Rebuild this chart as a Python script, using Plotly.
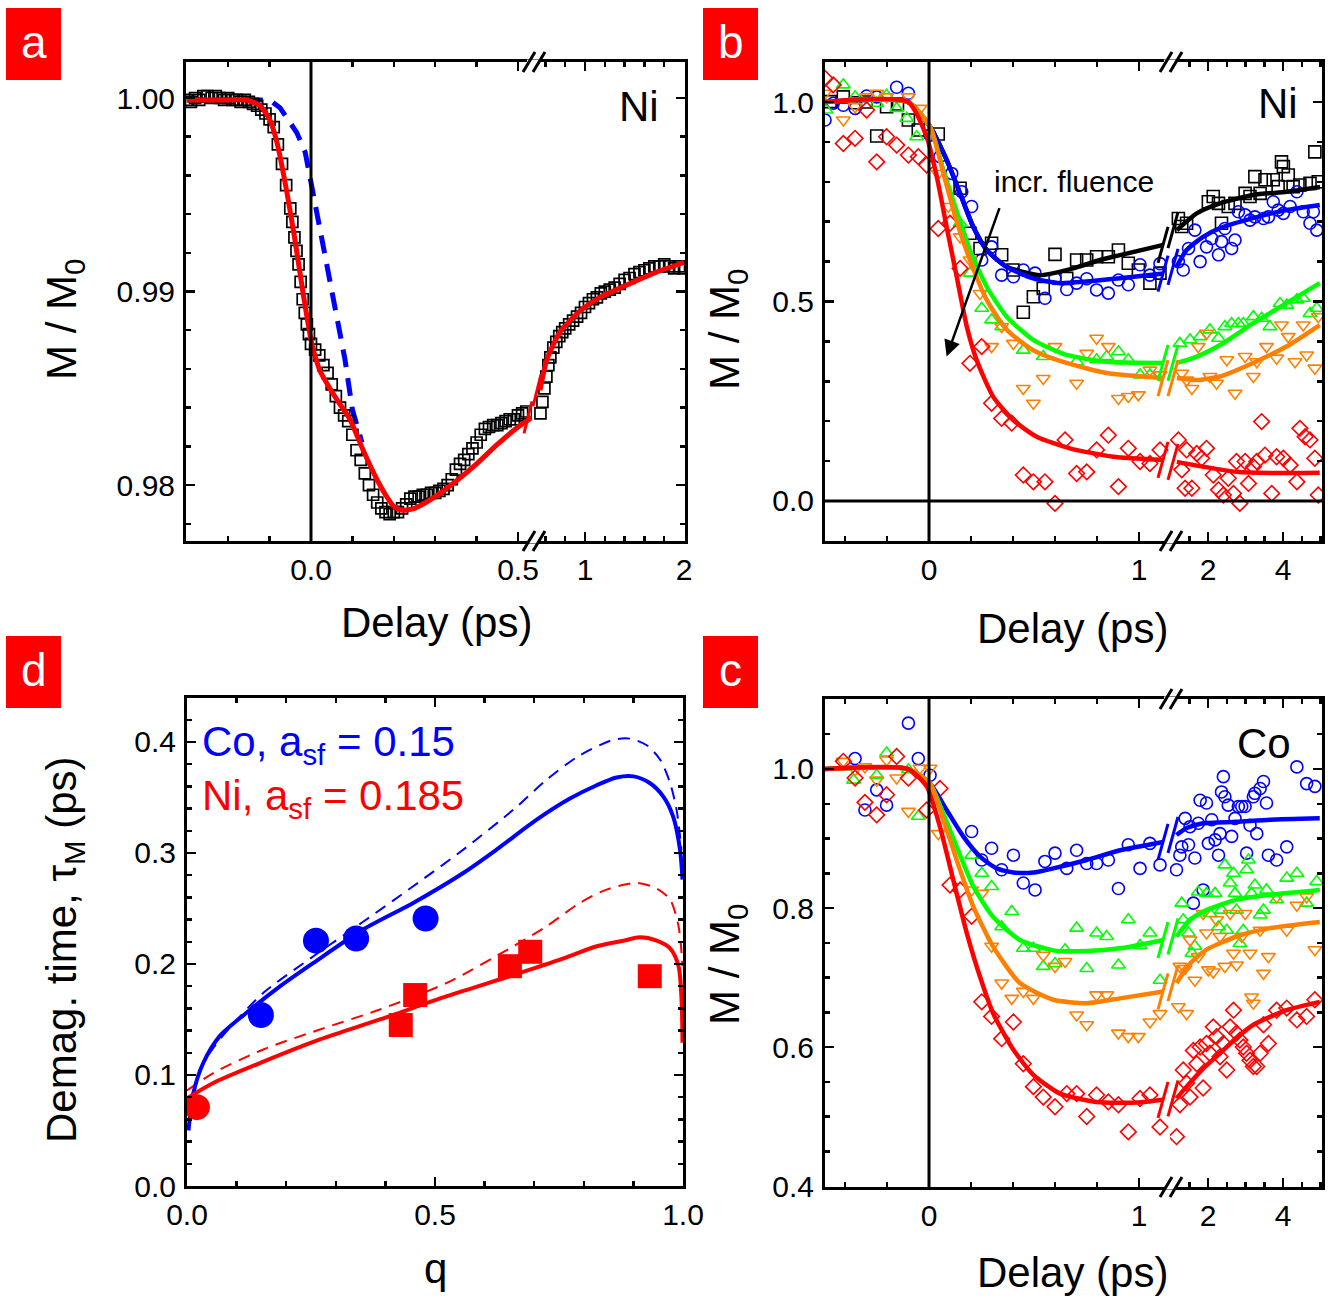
import plotly.graph_objects as go

FONT = "Liberation Sans, Arial, Helvetica, sans-serif"
W, H = 1330, 1300
BLACK, BLUE, GREEN, ORANGE, RED = "#000000", "#0000FF", "#00FF00", "#FF8000", "#FF0000"

# ======================= DATA =======================
# ---- panel a (Ni, single fluence) ----
A_DATA_T = [-0.30, -0.29, -0.28, -0.27, -0.26, -0.25, -0.24, -0.23, -0.22, -0.21, -0.20, -0.19, -0.18, -0.17,
            -0.16, -0.15, -0.14, -0.13, -0.12, -0.11, -0.10, -0.09, -0.08, -0.07, -0.06,
            -0.05, -0.045, -0.04, -0.035, -0.03, -0.025, -0.02, -0.015, -0.01, -0.005, 0.0,
            0.01, 0.02, 0.03, 0.04, 0.05, 0.06, 0.07, 0.08, 0.09, 0.10,
            0.11, 0.12, 0.13, 0.14, 0.15, 0.16, 0.17, 0.18, 0.19, 0.20,
            0.21, 0.22, 0.23, 0.24, 0.25, 0.26, 0.27, 0.28, 0.29, 0.30,
            0.31, 0.32, 0.33, 0.34, 0.35, 0.36, 0.37, 0.38, 0.39, 0.40,
            0.41, 0.42, 0.43, 0.44, 0.45, 0.46, 0.47, 0.48, 0.49, 0.50, 0.51, 0.52,
            0.55, 0.57, 0.59, 0.61, 0.63, 0.65, 0.68, 0.71, 0.74, 0.77,
            0.80, 0.84, 0.88, 0.92, 0.96, 1.00, 1.04, 1.08, 1.12, 1.16,
            1.20, 1.25, 1.30, 1.35, 1.40, 1.45, 1.50, 1.55, 1.60, 1.65,
            1.70, 1.75, 1.80, 1.85, 1.90, 1.95, 2.00]
A_DATA_M = [0.9999, 0.9998, 1.0000, 0.9999, 1.0001, 1.0001, 1.0000, 1.0001, 1.0000, 0.9999, 1.0000, 0.9999, 0.9999, 0.9998,
            0.9999, 0.9998, 0.9997, 0.9996, 0.9994, 0.9992, 0.9989, 0.9985, 0.9976, 0.9966, 0.9955,
            0.9943, 0.9936, 0.9928, 0.9921, 0.9914, 0.9905, 0.9896, 0.9889, 0.9883, 0.9878, 0.9873,
            0.9870, 0.9867, 0.9862, 0.9858, 0.9852, 0.9846, 0.9840, 0.9836, 0.9833, 0.9826,
            0.9818, 0.9813, 0.9806, 0.9800, 0.9795, 0.9791, 0.9788, 0.9786, 0.9785, 0.9786,
            0.9786, 0.9788, 0.9790, 0.9793, 0.9794, 0.9794, 0.9795, 0.9795, 0.9796, 0.9796,
            0.9797, 0.9798, 0.9800, 0.9803, 0.9808, 0.9811, 0.9813, 0.9816, 0.9819, 0.9822,
            0.9826, 0.9829, 0.9830, 0.9831, 0.9831, 0.9832, 0.9833, 0.9834, 0.9834, 0.9836, 0.9837, 0.9838,
            0.9837, 0.9843, 0.9850, 0.9856, 0.9862, 0.9866, 0.9871, 0.9874, 0.9877, 0.9879,
            0.9881, 0.9883, 0.9885, 0.9887, 0.9889, 0.9892, 0.9894, 0.9896, 0.9897, 0.9899,
            0.9900, 0.9901, 0.9902, 0.9904, 0.9906, 0.9907, 0.9909, 0.9910, 0.9911, 0.9912,
            0.9913, 0.9913, 0.9914, 0.9913, 0.9912, 0.9913, 0.9912]
A_FIT_T = [-0.30, -0.20, -0.155, -0.123, -0.10, -0.082, -0.058, -0.039, -0.019, 0.002, 0.022, 0.063, 0.094, 0.126,
           0.159, 0.18, 0.20, 0.22, 0.25, 0.30, 0.35, 0.40, 0.45, 0.50, 0.534,
           0.545, 0.616, 0.747, 0.95, 1.15, 1.45, 1.72, 2.0]
A_FIT_M = [0.9999, 0.9999, 0.9999, 0.9996, 0.9989, 0.9977, 0.9951, 0.9927, 0.9899, 0.9873, 0.9859, 0.9844, 0.9834, 0.9818,
           0.9803, 0.9795, 0.9789, 0.9787, 0.9788, 0.9794, 0.9802, 0.9811, 0.9821, 0.9830, 0.9835,
           0.9849, 0.9865, 0.9879, 0.9890, 0.9897, 0.9904, 0.9910, 0.9915]
A_DASH_T = [-0.30, -0.15, -0.10, -0.075, -0.034, -0.014, 0.005, 0.022, 0.041, 0.063, 0.082, 0.10, 0.123]
A_DASH_M = [0.9999, 0.9999, 0.9999, 0.9995, 0.9982, 0.9972, 0.9951, 0.9933, 0.9910, 0.9885, 0.9865, 0.9839, 0.9822]

# ---- panel b (Ni, increasing fluence) ----
B_BLK_T = [-0.471, -0.408, -0.35, -0.30, -0.249, -0.202, -0.15, -0.098, -0.051, 0.044, 0.148, 0.195, 0.243, 0.298,
           0.346, 0.40, 0.449, 0.497, 0.544, 0.600, 0.656, 0.703, 0.751, 0.798, 0.854, 0.902, 0.949, 0.997, 1.052,
           1.100, 1.21, 1.30, 1.43, 2.01, 2.14, 2.28, 2.36, 2.54, 2.72, 2.99, 3.12, 3.25, 3.39, 3.52, 3.74, 3.87,
           3.96, 4.01, 4.14, 4.27, 4.45, 4.72, 4.85, 4.94]
B_BLK_M = [1.001, 1.013, 0.998, 1.000, 0.915, 0.988, 0.995, 0.955, 0.930, 0.920, 0.784, 0.671, 0.633, 0.646,
           0.617, 0.579, 0.473, 0.512, 0.533, 0.618, 0.558, 0.604, 0.604, 0.612, 0.612, 0.629, 0.596, 0.579, 0.546,
           0.571, 0.708, 0.688, 0.696, 0.750, 0.763, 0.746, 0.696, 0.738, 0.746, 0.771, 0.763, 0.813, 0.771, 0.805,
           0.805, 0.788, 0.850, 0.838, 0.817, 0.788, 0.792, 0.796, 0.875, 0.800]
B_BLU_T = [-0.495, -0.456, -0.408, -0.352, -0.297, -0.249, -0.154, -0.098, 0.005, 0.052, 0.108, 0.156, 0.203, 0.251,
           0.298, 0.346, 0.402, 0.449, 0.505, 0.552, 0.600, 0.656, 0.703, 0.751, 0.798, 0.854, 0.902, 0.949, 1.005,
           1.052, 1.100, 1.21, 1.34, 1.48, 1.65, 1.79, 1.96, 2.10, 2.28, 2.36, 2.45, 2.63, 2.72, 2.81, 2.99, 3.12,
           3.25, 3.48, 3.61, 3.74, 3.87, 4.01, 4.19, 4.37, 4.54, 4.72, 4.81, 4.90]
B_BLU_M = [0.955, 0.997, 0.992, 0.984, 1.015, 1.013, 1.037, 1.022, 0.917, 0.863, 0.821, 0.775, 0.738, 0.604,
           0.637, 0.566, 0.562, 0.579, 0.571, 0.508, 0.558, 0.530, 0.546, 0.557, 0.529, 0.521, 0.554, 0.542, 0.592,
           0.566, 0.595, 0.600, 0.579, 0.633, 0.679, 0.600, 0.637, 0.658, 0.617, 0.650, 0.683, 0.633, 0.654, 0.725,
           0.717, 0.704, 0.712, 0.708, 0.712, 0.750, 0.729, 0.721, 0.738, 0.775, 0.725, 0.696, 0.725, 0.679]
B_GRN_T = [-0.49, -0.408, -0.352, -0.249, -0.202, -0.154, -0.106, -0.059, 0.148, 0.195, 0.251, 0.298, 0.346, 0.449,
           0.544, 0.703, 0.798, 0.846, 0.902, 0.949, 1.005, 1.052, 1.25, 1.52, 1.79, 2.05, 2.28, 2.45, 2.63, 2.81,
           2.94, 3.21, 3.43, 3.65, 3.92, 4.10, 4.37, 4.54, 4.72, 4.90]
B_GRN_M = [0.980, 1.043, 1.013, 0.997, 1.017, 0.984, 0.959, 0.913, 0.696, 0.571, 0.483, 0.454, 0.437, 0.378,
           0.362, 0.349, 0.354, 0.362, 0.374, 0.354, 0.316, 0.316, 0.395, 0.404, 0.412, 0.429, 0.408, 0.437, 0.445,
           0.445, 0.445, 0.462, 0.458, 0.437, 0.495, 0.491, 0.504, 0.508, 0.470, 0.483]
B_ORG_T = [-0.495, -0.408, -0.352, -0.297, -0.249, -0.202, -0.098, -0.043, 0.044, 0.092, 0.148, 0.195, 0.243, 0.298,
           0.346, 0.402, 0.449, 0.497, 0.544, 0.600, 0.703, 0.751, 0.798, 0.854, 0.902, 0.949, 0.997, 1.052, 1.100,
           1.30, 1.43, 1.57, 1.74, 1.96, 2.05, 2.23, 2.50, 2.72, 2.99, 3.21, 3.30, 3.56, 3.83, 3.96, 4.14, 4.32,
           4.54, 4.63, 4.85, 4.94]
B_ORG_M = [1.022, 0.955, 0.988, 1.013, 1.022, 1.013, 1.013, 0.984, 0.821, 0.738, 0.662, 0.604, 0.520, 0.387,
           0.437, 0.395, 0.282, 0.245, 0.307, 0.387, 0.295, 0.370, 0.408, 0.387, 0.257, 0.262, 0.266, 0.328, 0.316,
           0.320, 0.303, 0.282, 0.387, 0.420, 0.312, 0.295, 0.354, 0.270, 0.362, 0.312, 0.349, 0.387, 0.358, 0.441,
           0.412, 0.349, 0.441, 0.366, 0.333, 0.462]
B_RED_T = [-0.495, -0.456, -0.408, -0.352, -0.297, -0.249, -0.202, -0.154, -0.098, -0.051, -0.011, 0.044, 0.100,
           0.148, 0.195, 0.251, 0.298, 0.346, 0.394, 0.449, 0.497, 0.552, 0.600, 0.648, 0.703, 0.751, 0.798, 0.854,
           0.902, 0.949, 1.005, 1.052, 1.100, 1.21, 1.30, 1.39, 1.43, 1.57, 1.70, 1.83, 1.96, 2.14, 2.28, 2.41, 2.54,
           2.68, 2.76, 2.85, 2.99, 3.08, 3.21, 3.30, 3.43, 3.52, 3.70, 3.83, 4.01, 4.19, 4.37, 4.45, 4.59, 4.72,
           4.85, 4.94]
B_RED_M = [1.059, 1.043, 0.896, 0.909, 0.980, 0.850, 0.913, 0.892, 0.867, 0.863, 0.842, 0.683, 0.696,
           0.583, 0.345, 0.387, 0.245, 0.207, 0.195, 0.065, 0.048, 0.048, -0.006, 0.153, 0.069, 0.073, 0.128, 0.165,
           0.036, 0.132, 0.099, 0.094, 0.128, 0.153, 0.078, 0.032, 0.128, 0.032, 0.119, 0.107, 0.132, 0.065, 0.028,
           0.015, 0.057, 0.019, 0.099, -0.006, 0.099, 0.044, 0.086, 0.099, 0.199, 0.115, 0.019, 0.111, 0.107, 0.090,
           0.048, 0.182, 0.161, 0.153, 0.107, 0.015]
B_BLK_FIT_T = [-0.5, -0.1, 0.005, 0.084, 0.148, 0.21, 0.275, 0.37, 0.529, 0.70, 0.814, 0.90, 1.116,
               1.17, 1.70, 2.32, 3.2, 4.1, 4.99]
B_BLK_FIT_M = [1.0, 1.0, 0.938, 0.855, 0.771, 0.688, 0.629, 0.587, 0.566, 0.585, 0.604, 0.615, 0.642,
               0.679, 0.721, 0.746, 0.767, 0.775, 0.787]
B_BLU_FIT_T = [-0.5, -0.1, 0.005, 0.084, 0.148, 0.21, 0.275, 0.37, 0.496, 0.624, 0.751, 0.91, 1.116,
               1.16, 1.43, 1.87, 2.32, 3.2, 4.09, 4.98]
B_BLU_FIT_M = [1.0, 1.0, 0.938, 0.855, 0.771, 0.688, 0.629, 0.587, 0.558, 0.546, 0.550, 0.558, 0.570,
               0.587, 0.629, 0.662, 0.684, 0.709, 0.729, 0.742]
B_GRN_FIT_T = [-0.5, -0.1, 0.005, 0.068, 0.13, 0.195, 0.275, 0.37, 0.496, 0.655, 0.845, 1.116,
               1.17, 1.70, 2.32, 3.2, 4.09, 4.98]
B_GRN_FIT_M = [1.0, 1.0, 0.938, 0.83, 0.729, 0.629, 0.537, 0.462, 0.404, 0.366, 0.349, 0.346,
               0.346, 0.362, 0.391, 0.445, 0.496, 0.546]
B_ORG_FIT_T = [-0.5, -0.1, 0.005, 0.068, 0.13, 0.195, 0.275, 0.37, 0.496, 0.655, 0.845, 1.116,
               1.17, 1.70, 2.32, 3.2, 4.09, 4.98]
B_ORG_FIT_M = [1.0, 1.0, 0.938, 0.822, 0.704, 0.604, 0.504, 0.429, 0.378, 0.346, 0.321, 0.308,
               0.308, 0.303, 0.312, 0.346, 0.387, 0.441]
B_RED_FIT_T = [-0.5, -0.1, -0.011, 0.037, 0.084, 0.132, 0.18, 0.227, 0.306, 0.401, 0.513, 0.671, 0.877, 1.116,
               1.17, 1.87, 2.76, 3.65, 4.98]
B_RED_FIT_M = [1.0, 1.0, 0.913, 0.813, 0.687, 0.562, 0.437, 0.353, 0.261, 0.203, 0.161, 0.132, 0.111, 0.103,
               0.098, 0.086, 0.073, 0.070, 0.071]

# ---- panel c (Co, increasing fluence) ----
C_BLU_T = [-0.352, -0.305, -0.249, -0.202, -0.098, -0.051, 0.005,
           0.203, 0.251, 0.298, 0.346, 0.402, 0.449, 0.505, 0.552, 0.600, 0.656, 0.703, 0.751, 0.798, 0.854, 0.902,
           0.949, 1.005, 1.052, 1.100,
           1.16, 1.25, 1.30, 1.39, 1.48, 1.52, 1.61, 1.65, 1.74, 1.79, 1.87, 1.96, 2.01, 2.10, 2.19, 2.28, 2.32,
           2.36, 2.41, 2.45, 2.54, 2.63, 2.72, 2.81, 2.90, 2.99, 3.03, 3.12, 3.21, 3.25, 3.30, 3.39, 3.48, 3.56,
           3.61, 3.83, 4.10, 4.37, 4.63, 4.85]
C_BLU_M = [1.015, 0.941, 0.970, 0.948, 1.066, 1.015, 0.991,
           0.910, 0.869, 0.886, 0.855, 0.876, 0.836, 0.826, 0.867, 0.879, 0.857, 0.883, 0.864, 0.864, 0.869, 0.828,
           0.891, 0.857, 0.893, 0.862,
           0.855, 0.876, 0.888, 0.929, 0.891, 0.917, 0.807, 0.872, 0.922, 0.955, 0.826, 0.951, 0.893, 0.927, 0.898,
           0.876, 0.907, 0.967, 0.989, 0.960, 0.948, 0.903, 0.929, 0.946, 0.946, 0.946, 0.879, 0.919, 0.960, 0.965,
           0.907, 0.972, 0.982, 0.951, 0.876, 0.869, 0.888, 1.003, 0.979, 0.975]
C_GRN_T = [-0.359, -0.249, -0.202, -0.098, -0.051,
           0.203, 0.251, 0.298, 0.346, 0.394, 0.449, 0.497, 0.544, 0.600, 0.648, 0.703, 0.751, 0.798, 0.846, 0.902,
           0.949, 1.005, 1.052, 1.100,
           1.30, 1.34, 1.48, 1.57, 1.65, 1.74, 1.96, 2.05, 2.19, 2.28, 2.36, 2.45, 2.50, 2.59, 2.68, 2.72, 2.76,
           2.85, 2.94, 3.03, 3.08, 3.16, 3.25, 3.39, 3.48, 3.56, 3.83, 4.10, 4.37, 4.63, 4.90]
C_GRN_M = [0.984, 0.991, 1.023, 0.999, 0.932,
           0.876, 0.850, 0.831, 0.773, 0.795, 0.742, 0.742, 0.716, 0.720, 0.740, 0.771, 0.713, 0.764, 0.759, 0.718,
           0.783, 0.746, 0.764, 0.696,
           0.807, 0.783, 0.764, 0.735, 0.745, 0.823, 0.821, 0.792, 0.821, 0.773, 0.797, 0.862, 0.768, 0.836, 0.850,
           0.821, 0.797, 0.749, 0.768, 0.855, 0.869, 0.821, 0.833, 0.790, 0.797, 0.826, 0.812, 0.843, 0.850, 0.807,
           0.838]
C_ORG_T = [-0.408, -0.352, -0.305, -0.249, -0.202, -0.154, -0.098, -0.043, 0.005, 0.044,
           0.203, 0.251, 0.298, 0.346, 0.394, 0.449, 0.497, 0.544, 0.600, 0.648, 0.703, 0.751, 0.798, 0.846, 0.902,
           0.949, 0.997, 1.052, 1.100,
           1.21, 1.25, 1.39, 1.43, 1.52, 1.65, 1.74, 1.87, 1.96, 2.01, 2.14, 2.23, 2.32, 2.45, 2.59, 2.68, 2.76,
           2.90, 2.99, 3.12, 3.16, 3.21, 3.39, 3.48, 3.61, 3.83, 4.10, 4.37, 4.63, 4.85]
C_ORG_M = [1.011, 0.999, 1.003, 0.984, 1.013, 0.987, 0.939, 1.001, 1.001, 0.907,
           0.826, 0.821, 0.745, 0.692, 0.670, 0.680, 0.670, 0.732, 0.716, 0.723, 0.646, 0.632, 0.675, 0.675, 0.620,
           0.615, 0.615, 0.636, 0.648,
           0.658, 0.716, 0.713, 0.648, 0.754, 0.696, 0.730, 0.792, 0.764, 0.711, 0.708, 0.783, 0.759, 0.716, 0.792,
           0.735, 0.718, 0.759, 0.792, 0.735, 0.672, 0.663, 0.768, 0.706, 0.730, 0.816, 0.768, 0.804, 0.816, 0.740]
C_RED_T = [-0.408, -0.352, -0.305, -0.249, -0.202, -0.154, -0.098, -0.011, 0.052, 0.100,
           0.148, 0.203, 0.251, 0.298, 0.346, 0.402, 0.449, 0.497, 0.544, 0.600,
           0.656, 0.703, 0.751, 0.798, 0.854, 0.902, 0.949, 1.005, 1.052, 1.100,
           1.16, 1.25, 1.34, 1.43, 1.52, 1.61, 1.70, 1.79, 1.87, 1.96, 2.05, 2.14, 2.23, 2.32, 2.41, 2.50, 2.59,
           2.68, 2.76, 2.85, 2.94, 3.03, 3.12, 3.21, 3.30, 3.39, 3.48, 3.61, 3.83, 4.10, 4.37, 4.63, 4.85]
C_RED_M = [1.011, 0.987, 0.952, 0.934, 0.963, 1.018, 0.987, 0.941, 0.972, 0.833,
           0.826, 0.788, 0.665, 0.644, 0.612, 0.636, 0.576, 0.543, 0.528, 0.514,
           0.533, 0.533, 0.500, 0.531, 0.521, 0.517, 0.478, 0.526, 0.531, 0.485,
           0.471, 0.517, 0.567, 0.548, 0.528, 0.595, 0.576, 0.600, 0.541, 0.605, 0.591, 0.629, 0.615, 0.586, 0.605,
           0.567, 0.629, 0.653, 0.620, 0.610, 0.600, 0.591, 0.581, 0.572, 0.572, 0.591, 0.632, 0.605, 0.653, 0.656,
           0.639, 0.644, 0.668]
C_BLU_FIT_T = [-0.5, -0.1, 0.005, 0.084, 0.163, 0.243, 0.322, 0.402, 0.497, 0.592, 0.751, 0.91, 1.116,
               1.16, 1.43, 1.87, 2.76, 3.65, 4.98]
C_BLU_FIT_M = [1.0, 1.0, 0.979, 0.941, 0.903, 0.874, 0.857, 0.851, 0.851, 0.857, 0.869, 0.883, 0.895,
               0.905, 0.915, 0.922, 0.924, 0.927, 0.929]
C_GRN_FIT_T = [-0.5, -0.1, 0.005, 0.068, 0.132, 0.211, 0.306, 0.433, 0.592, 0.751, 0.91, 1.116,
               1.16, 1.52, 1.96, 2.76, 3.65, 4.98]
C_GRN_FIT_M = [1.0, 1.0, 0.979, 0.936, 0.888, 0.831, 0.787, 0.754, 0.739, 0.738, 0.742, 0.754,
               0.759, 0.783, 0.797, 0.812, 0.819, 0.826]
C_ORG_FIT_T = [-0.5, -0.1, 0.005, 0.068, 0.132, 0.211, 0.306, 0.433, 0.592, 0.751, 0.91, 1.116,
               1.16, 1.52, 1.96, 2.76, 3.65, 4.98]
C_ORG_FIT_M = [1.0, 1.0, 0.979, 0.927, 0.869, 0.802, 0.744, 0.692, 0.668, 0.663, 0.670, 0.680,
               0.692, 0.720, 0.740, 0.759, 0.771, 0.780]
C_RED_FIT_T = [-0.5, -0.1, -0.011, 0.052, 0.116, 0.18, 0.243, 0.306, 0.402, 0.497, 0.624, 0.798, 0.99, 1.116,
               1.16, 1.43, 1.87, 2.32, 2.76, 3.21, 4.09, 4.98]
C_RED_FIT_M = [1.0, 1.0, 0.975, 0.917, 0.840, 0.764, 0.701, 0.648, 0.596, 0.560, 0.533, 0.521, 0.520, 0.524,
               0.526, 0.543, 0.569, 0.591, 0.613, 0.632, 0.653, 0.665]

# ---- panel d (demagnetization time vs q) ----
D_CO_FIT_Q = [0.003, 0.013, 0.033, 0.066, 0.120, 0.188, 0.255, 0.355, 0.456, 0.557, 0.624, 0.705, 0.772, 0.826,
              0.866, 0.900, 0.933, 0.960, 0.980, 0.994, 0.999]
D_CO_FIT_TAU = [0.050, 0.084, 0.111, 0.135, 0.156, 0.180, 0.201, 0.231, 0.255, 0.282, 0.303, 0.330, 0.349, 0.361,
                0.368, 0.369, 0.363, 0.351, 0.333, 0.303, 0.276]
D_CO_DASH_Q = [0.006, 0.026, 0.054, 0.087, 0.154, 0.255, 0.355, 0.456, 0.557, 0.658, 0.725, 0.792, 0.860, 0.893,
               0.927, 0.954, 0.974, 0.987, 0.997]
D_CO_DASH_TAU = [0.068, 0.105, 0.125, 0.143, 0.174, 0.207, 0.238, 0.270, 0.303, 0.339, 0.366, 0.388, 0.402, 0.403,
                 0.397, 0.384, 0.363, 0.339, 0.303]
D_NI_FIT_Q = [0.0, 0.054, 0.154, 0.268, 0.389, 0.524, 0.658, 0.759, 0.826, 0.880, 0.913, 0.947, 0.974, 0.991,
              0.997, 0.999]
D_NI_FIT_TAU = [0.079, 0.093, 0.112, 0.132, 0.150, 0.171, 0.190, 0.205, 0.216, 0.221, 0.224, 0.221, 0.214, 0.198,
                0.168, 0.129]
D_NI_DASH_Q = [0.0, 0.054, 0.154, 0.268, 0.389, 0.524, 0.658, 0.725, 0.792, 0.846, 0.907, 0.947, 0.974, 0.991, 0.999]
D_NI_DASH_TAU = [0.086, 0.102, 0.123, 0.141, 0.159, 0.183, 0.216, 0.234, 0.255, 0.267, 0.273, 0.268, 0.258, 0.234,
                 0.198]
D_CO_PTS_Q = [0.149, 0.260, 0.341, 0.481]
D_CO_PTS_TAU = [0.154, 0.221, 0.223, 0.241]
D_NI_CIRC_Q = [0.020]
D_NI_CIRC_TAU = [0.071]
D_NI_SQ_Q = [0.431, 0.460, 0.651, 0.692, 0.933]
D_NI_SQ_TAU = [0.145, 0.172, 0.198, 0.211, 0.189]

A_BREAK_T = 0.54   # data before this delay go to the left axis segment
BC_BREAK_T = 1.14

# ======================= LAYOUT HELPERS =======================
def fx(p):
    return p / W


def fy(p):
    return 1 - p / H


TICKFONT = dict(family=FONT, size=30, color=BLACK)


def axis_base(dtick, fmt, minor):
    return dict(tickmode="linear", tick0=0, dtick=dtick, tickformat=fmt,
                showline=True, linecolor=BLACK, linewidth=3,
                ticks="inside", ticklen=9, tickwidth=2.5, tickcolor=BLACK,
                minor=dict(ticks="inside", ticklen=5, tickwidth=2.5, tickcolor=BLACK,
                           tick0=0, dtick=minor, showgrid=False),
                showgrid=False, zeroline=False, tickfont=TICKFONT, fixedrange=True, automargin=False)


def xcfg(x0, x1, rng, dtick, fmt, minor, anchor):
    d = axis_base(dtick, fmt, minor)
    d.update(domain=[fx(x0), fx(x1)], range=rng, anchor=anchor, mirror="ticks", ticklabelstandoff=0)
    return d


def ycfg(top, bot, rng, dtick, fmt, minor, anchor, side="left", labels=True, mirror=False):
    d = axis_base(dtick, fmt, minor)
    d.update(domain=[fy(bot), fy(top)], range=rng, anchor=anchor, side=side,
             showticklabels=labels, mirror=mirror, ticklabelstandoff=2)
    return d


def split(ts, vs, thr):
    lt = [t for t in ts if t < thr]
    lv = [v for t, v in zip(ts, vs) if t < thr]
    rt = [t for t in ts if t >= thr]
    rv = [v for t, v in zip(ts, vs) if t >= thr]
    return (lt, lv), (rt, rv)


fig = go.Figure()


def add_split(ts, vs, thr, axl, axr, **kw):
    (lt, lv), (rt, rv) = split(ts, vs, thr)
    fig.add_trace(go.Scatter(x=lt, y=lv, xaxis=axl[0], yaxis=axl[1], showlegend=False, **kw))
    fig.add_trace(go.Scatter(x=rt, y=rv, xaxis=axr[0], yaxis=axr[1], showlegend=False, **kw))


# geometry (pixels)
A_L, A_S, A_R, TOP1, BOT1 = 186, 532, 685, 62, 541
B_L, B_S, B_R = 825, 1170, 1322
C_TOP, C_BOT = 699, 1187
D_L, D_R, D_TOP, D_BOT = 187, 683, 698, 1186

A_XL_RANGE = [-0.3019, 0.5338]
A_XR_RANGE = [0.4646, 2.0101]
A_Y_RANGE = [0.97711, 1.00186]
B_XL_RANGE = [-0.4952, 1.1476]
B_XR_RANGE = [0.9867, 5.04]
B_Y_RANGE = [-0.1003, 1.1003]
C_Y_RANGE = [0.3986, 1.1007]
D_X_RANGE = [0.0, 1.0]
D_Y_RANGE = [0.0, 0.4396]

layout = dict(
    template="none",
    width=W, height=H, margin=dict(l=0, r=0, t=0, b=0, pad=0, autoexpand=False),
    paper_bgcolor="white", plot_bgcolor="white", showlegend=False,
    font=dict(family=FONT, color=BLACK),
    xaxis=xcfg(A_L, A_S, A_XL_RANGE, 0.5, ".1f", 0.1, "y"),
    xaxis2=xcfg(A_S, A_R, A_XR_RANGE, 1, ".0f", 0.2, "y2"),
    yaxis=ycfg(TOP1, BOT1, A_Y_RANGE, 0.01, ".2f", 0.002, "x"),
    yaxis2=ycfg(TOP1, BOT1, A_Y_RANGE, 0.01, ".2f", 0.002, "x2", side="right", labels=False),
    xaxis3=xcfg(B_L, B_S, B_XL_RANGE, 1, ".0f", 0.2, "y3"),
    xaxis4=xcfg(B_S, B_R, B_XR_RANGE, 2, ".0f", 0.5, "y4"),
    yaxis3=ycfg(TOP1, BOT1, B_Y_RANGE, 0.5, ".1f", 0.1, "x3"),
    yaxis4=ycfg(TOP1, BOT1, B_Y_RANGE, 0.5, ".1f", 0.1, "x4", side="right", labels=False),
    xaxis5=xcfg(B_L, B_S, B_XL_RANGE, 1, ".0f", 0.2, "y5"),
    xaxis6=xcfg(B_S, B_R, B_XR_RANGE, 2, ".0f", 0.5, "y6"),
    yaxis5=ycfg(C_TOP, C_BOT, C_Y_RANGE, 0.2, ".1f", 0.05, "x5"),
    yaxis6=ycfg(C_TOP, C_BOT, C_Y_RANGE, 0.2, ".1f", 0.05, "x6", side="right", labels=False),
    xaxis7=xcfg(D_L, D_R, D_X_RANGE, 0.5, ".1f", 0.1, "y7"),
    yaxis7=ycfg(D_TOP, D_BOT, D_Y_RANGE, 0.1, ".1f", 0.02, "x7", mirror="ticks"),
)

# ======================= TRACES =======================
AX_A = (("x", "y"), ("x2", "y2"))
AX_B = (("x3", "y3"), ("x4", "y4"))
AX_C = (("x5", "y5"), ("x6", "y6"))

# panel a
fig.add_trace(go.Scatter(x=A_DASH_T, y=A_DASH_M, xaxis="x", yaxis="y", mode="lines", showlegend=False,
                         line=dict(color=BLUE, width=5, dash="18px,11px")))
add_split(A_DATA_T, A_DATA_M, A_BREAK_T, *AX_A, mode="markers",
          marker=dict(symbol="square-open", size=11, color=BLACK, line=dict(width=1.7, color=BLACK)))
add_split(A_FIT_T, A_FIT_M, A_BREAK_T, *AX_A, mode="lines",
          line=dict(color=RED, width=5, shape="spline", smoothing=0.6))

# panels b and c
MSZ = 12
sym = dict(blk="square-open", blu="circle-open", grn="triangle-up-open", org="triangle-down-open", red="diamond-open")
col = dict(blk=BLACK, blu=BLUE, grn=GREEN, org=ORANGE, red=RED)

B_SERIES = [("blk", B_BLK_T, B_BLK_M, B_BLK_FIT_T, B_BLK_FIT_M),
            ("blu", B_BLU_T, B_BLU_M, B_BLU_FIT_T, B_BLU_FIT_M),
            ("grn", B_GRN_T, B_GRN_M, B_GRN_FIT_T, B_GRN_FIT_M),
            ("org", B_ORG_T, B_ORG_M, B_ORG_FIT_T, B_ORG_FIT_M),
            ("red", B_RED_T, B_RED_M, B_RED_FIT_T, B_RED_FIT_M)]
C_SERIES = [("blu", C_BLU_T, C_BLU_M, C_BLU_FIT_T, C_BLU_FIT_M),
            ("grn", C_GRN_T, C_GRN_M, C_GRN_FIT_T, C_GRN_FIT_M),
            ("org", C_ORG_T, C_ORG_M, C_ORG_FIT_T, C_ORG_FIT_M),
            ("red", C_RED_T, C_RED_M, C_RED_FIT_T, C_RED_FIT_M)]

for series, axes in ((B_SERIES, AX_B), (C_SERIES, AX_C)):
    for key, t, m, ft, fm in series:
        add_split(t, m, BC_BREAK_T, *axes, mode="markers",
                  marker=dict(symbol=sym[key], size=MSZ, color=col[key], line=dict(width=1.6, color=col[key])))
    for key, t, m, ft, fm in series:
        add_split(ft, fm, BC_BREAK_T, *axes, mode="lines",
                  line=dict(color=col[key], width=4.5, shape="spline", smoothing=0.6))

# panel d
fig.add_trace(go.Scatter(x=D_CO_DASH_Q, y=D_CO_DASH_TAU, xaxis="x7", yaxis="y7", mode="lines", showlegend=False,
                         line=dict(color=BLUE, width=2, dash="12px,8px", shape="spline", smoothing=0.8)))
fig.add_trace(go.Scatter(x=D_NI_DASH_Q, y=D_NI_DASH_TAU, xaxis="x7", yaxis="y7", mode="lines", showlegend=False,
                         line=dict(color=RED, width=2, dash="12px,8px", shape="spline", smoothing=0.8)))
fig.add_trace(go.Scatter(x=D_CO_FIT_Q, y=D_CO_FIT_TAU, xaxis="x7", yaxis="y7", mode="lines", showlegend=False,
                         line=dict(color=BLUE, width=4, shape="spline", smoothing=0.8)))
fig.add_trace(go.Scatter(x=D_NI_FIT_Q, y=D_NI_FIT_TAU, xaxis="x7", yaxis="y7", mode="lines", showlegend=False,
                         line=dict(color=RED, width=4, shape="spline", smoothing=0.8)))
fig.add_trace(go.Scatter(x=D_CO_PTS_Q, y=D_CO_PTS_TAU, xaxis="x7", yaxis="y7", mode="markers", showlegend=False,
                         cliponaxis=False, marker=dict(symbol="circle", size=26, color=BLUE)))
fig.add_trace(go.Scatter(x=D_NI_CIRC_Q, y=D_NI_CIRC_TAU, xaxis="x7", yaxis="y7", mode="markers", showlegend=False,
                         cliponaxis=False, marker=dict(symbol="circle", size=26, color=RED)))
fig.add_trace(go.Scatter(x=D_NI_SQ_Q, y=D_NI_SQ_TAU, xaxis="x7", yaxis="y7", mode="markers", showlegend=False,
                         cliponaxis=False, marker=dict(symbol="square", size=24, color=RED)))

# ======================= SHAPES =======================
shapes = []


def pline(x0, y0, x1, y1, color=BLACK, width=3):
    shapes.append(dict(type="line", xref="paper", yref="paper", x0=fx(x0), y0=fy(y0), x1=fx(x1), y1=fy(y1),
                       line=dict(color=color, width=width)))


# axis breaks "//"
for s, ys in ((A_S + 2, (TOP1, BOT1)), (B_S + 1, (TOP1, BOT1)), (B_S + 1, (C_TOP, C_BOT))):
    for yy in ys:
        pline(s - 7, yy, s + 5, yy, color="white", width=5)
        pline(s - 11, yy + 10, s + 1, yy - 10, width=3)
        pline(s - 1, yy + 10, s + 11, yy - 10, width=3)

# zero lines
for xr, (t0, t1) in (("x", (TOP1, BOT1)), ("x3", (TOP1, BOT1)), ("x5", (C_TOP, C_BOT))):
    shapes.append(dict(type="line", xref=xr, yref="paper", x0=0, x1=0, y0=fy(t1), y1=fy(t0),
                       line=dict(color=BLACK, width=3)))
shapes.append(dict(type="line", xref="paper", yref="y3", x0=fx(B_L), x1=fx(B_R), y0=0, y1=0,
                   line=dict(color=BLACK, width=3)))


# curve break marks on the fits, anchored at fit values next to the break
def curve_break(ft, fm, thr, s, yl, yr, color, h=18, gap=(-12, -2, -2, 8)):
    (lt, lv), (rt, rv) = split(ft, fm, thr)
    for (xa, xb), yref, yv in (((gap[0], gap[1]), yl, lv[-1]), ((gap[2], gap[3]), yr, rv[0])):
        shapes.append(dict(type="line", xref="paper", yref=yref, ysizemode="pixel", yanchor=yv,
                           x0=fx(s + xa), x1=fx(s + xb), y0=-h, y1=h, line=dict(color=color, width=3)))


curve_break(A_FIT_T, A_FIT_M, A_BREAK_T, A_S, "y", "y2", RED, h=16, gap=(-8, 0, 1, 9))
for key, t, m, ft, fm in B_SERIES:
    curve_break(ft, fm, BC_BREAK_T, B_S, "y3", "y4", col[key])
for key, t, m, ft, fm in C_SERIES:
    curve_break(ft, fm, BC_BREAK_T, B_S, "y5", "y6", col[key])

# panel letter boxes
PANEL_BOXES = [("a", 6, 8), ("b", 703, 8), ("d", 6, 636), ("c", 703, 636)]
for lab, x0, y0 in PANEL_BOXES:
    shapes.append(dict(type="rect", xref="paper", yref="paper", x0=fx(x0), x1=fx(x0 + 55), y0=fy(y0 + 72), y1=fy(y0),
                       fillcolor=RED, line=dict(width=0), layer="above"))

# ======================= ANNOTATIONS =======================
ann = []


def text(x, y, s, size=42, color=BLACK, xanchor="center", yanchor="middle", angle=0):
    ann.append(dict(x=fx(x), y=fy(y), xref="paper", yref="paper", text=s, showarrow=False,
                    font=dict(family=FONT, size=size, color=color), xanchor=xanchor, yanchor=yanchor,
                    textangle=angle))


for lab, x0, y0 in PANEL_BOXES:
    text(x0 + 27.5, y0 + 34, lab, size=46, color="white")

text(436, 622, "Delay (ps)")
text(1072, 628, "Delay (ps)")
text(1072, 1272, "Delay (ps)")
text(435, 1268, "q")
text(64, 320, "M / M<sub>0</sub>", angle=-90)
text(727, 330, "M / M<sub>0</sub>", angle=-90)
text(727, 965, "M / M<sub>0</sub>", angle=-90)
text(64, 950, "Demag. time, \u03c4<sub>M</sub> (ps)", angle=-90)
text(661, 106, "Ni", xanchor="right")
text(1300, 104, "Ni", xanchor="right")
text(1293, 743, "Co", xanchor="right")
text(992, 181, "incr. fluence", size=30, xanchor="left")
text(200, 744, "Co, a<sub>sf</sub> = 0.15", size=42, color=BLUE, xanchor="left")
text(200, 799, "Ni, a<sub>sf</sub> = 0.185", size=42, color=RED, xanchor="left")

ARROW_TIP = (0.084, 0.362)
ARROW_TAIL = (0.338, 0.738)
ann.append(dict(x=ARROW_TIP[0], y=ARROW_TIP[1], xref="x3", yref="y3", ax=ARROW_TAIL[0], ay=ARROW_TAIL[1],
                axref="x3", ayref="y3", showarrow=True, arrowhead=2, arrowsize=1.3, arrowwidth=2.5,
                arrowcolor=BLACK, text=""))

layout["shapes"] = shapes
layout["annotations"] = ann
fig.update_layout(**layout)

fig.write_html("out.html", config={"displayModeBar": False, "staticPlot": True},
               post_script="document.body.style.margin='0';document.body.style.overflow='hidden';")
